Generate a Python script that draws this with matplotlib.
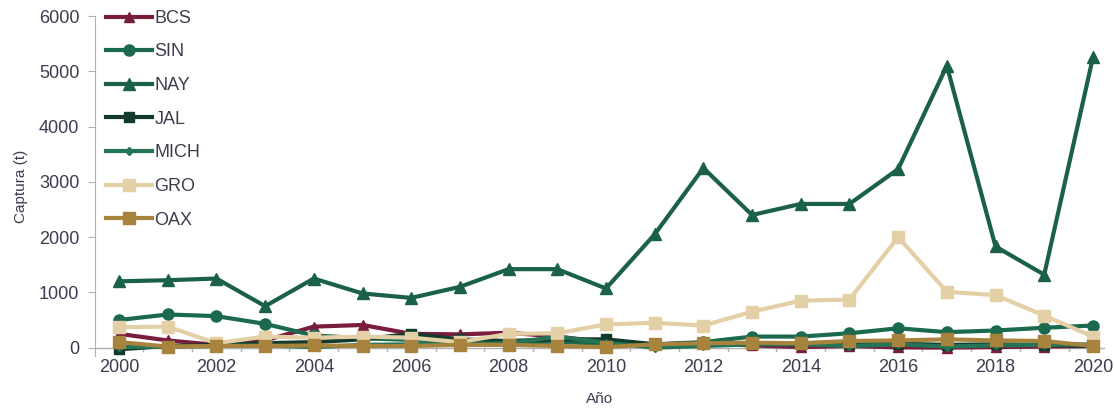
import numpy as np
import matplotlib.pyplot as plt

plt.rcParams['font.family'] = ['Liberation Sans', 'DejaVu Sans']

years = list(range(2000, 2021))

bcs = [250, 130, 50, 130, 380, 410, 250, 240, 270, 200, 100, 60, 80, 40, 10, 30, 5, 0, 10, 20, 30]
sin = [500, 600, 570, 430, 220, 170, 140, 110, 90, 110, 60, 60, 100, 200, 200, 260, 350, 280, 310, 360, 400]
nay = [1200, 1220, 1250, 750, 1250, 980, 900, 1100, 1420, 1420, 1070, 2050, 3250, 2400, 2600, 2600, 3230, 5100, 1830, 1320, 5250]
jal = [-30, 30, 50, 80, 100, 150, 250, 150, 120, 150, 150, 60, 80, 80, 60, 60, 70, 50, 60, 50, 30]
mich = [10, 20, 30, 40, 10, 50, 60, 70, 80, 200, 90, 0, 30, 60, 60, 30, 60, 20, 40, 50, 60]
gro = [370, 380, 80, 200, 180, 200, 180, 100, 250, 260, 420, 450, 400, 650, 850, 870, 2000, 1010, 950, 580, 200]
oax = [100, 20, 30, 30, 40, 30, 30, 50, 50, 30, 10, 60, 80, 90, 80, 120, 130, 150, 130, 120, 30]

fig = plt.figure(figsize=(11.14, 4.11), dpi=100)
ax = fig.add_axes([0.085, 0.134, 0.907, 0.827])

# series: label, data, color, marker, marker size
series = [
    ('BCS', bcs, '#7a1c3c', '^', 7),
    ('SIN', sin, '#1b6a4e', 'o', 8),
    ('NAY', nay, '#1b614a', '^', 9),
    ('JAL', jal, '#123b2c', 's', 7),
    ('MICH', mich, '#247556', 'D', 4),
    ('GRO', gro, '#e4d0a6', 's', 9),
    ('OAX', oax, '#a7833d', 's', 9),
]
for lab, vals, col, mk, ms in series:
    ax.plot(years, vals, color=col, marker=mk, markersize=ms, linewidth=3,
            label=lab)

ax.set_xlim(1999.5, 2020.25)
ax.set_ylim(-150, 6000)
ax.set_xticks(range(2000, 2021, 2))
ax.set_yticks(range(0, 6001, 1000))

for s in ['top', 'right', 'bottom']:
    ax.spines[s].set_visible(False)
ax.spines['left'].set_color('#b0b0b0')
ax.axhline(0, color='#b0b0b0', linewidth=1, zorder=0)

ax.tick_params(axis='x', which='both', length=0, labelsize=13, colors='#3c3c50', pad=2)
ax.tick_params(axis='y', length=5, color='#b0b0b0', labelsize=13, labelcolor='#3c3c50', pad=6)
# little ticks on the zero line between years
for xm in np.arange(2000.5, 2020, 1.0):
    ax.plot([xm, xm], [0, -60], color='#b0b0b0', linewidth=1, zorder=0)

ax.set_xlabel('Año', fontsize=11, color='#3c3c50', labelpad=12)
ax.set_ylabel('Captura (t)', fontsize=11, color='#3c3c50', labelpad=8)

leg = ax.legend(loc='upper left', bbox_to_anchor=(0.0, 1.05), frameon=False,
                fontsize=13, handlelength=2.6, labelspacing=0.92, handletextpad=0.1,
                borderaxespad=0.2)
for t in leg.get_texts():
    t.set_color('#3c3c50')

fig.savefig('out.png', dpi=100)
